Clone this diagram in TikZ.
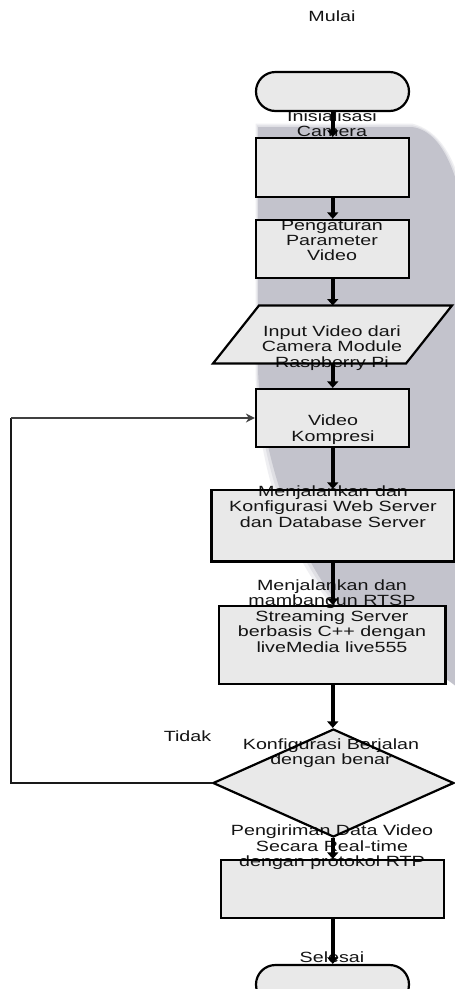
\documentclass[tikz,border=0pt]{standalone}
\usepackage{fontspec}
\setmainfont[FakeStretch=1.33]{Liberation Sans}
\usetikzlibrary{arrows.meta,shapes.geometric,shapes.misc}
\definecolor{boxfill}{HTML}{E9E9E9}
\definecolor{wm}{HTML}{C3C3CC}
\definecolor{txt}{HTML}{141414}
\tikzset{
  x=1pt,y=-1pt,
  boxnode/.style={rectangle,inner sep=0pt,line width=2.2pt,minimum width=#1},
  termnode/.style={rounded rectangle,inner sep=0pt,line width=2.2pt,minimum width=153pt,minimum height=39pt},
  decnode/.style={diamond,inner sep=0pt,line width=2.2pt,minimum width=241pt,minimum height=108pt},
  flow/.style={line width=4pt,-{Triangle[length=6.5pt,width=11pt]},black},
  loopline/.style={line width=2.3pt,draw=black!90},
  looparrow/.style={line width=2pt,draw=black!75,-{Stealth[length=9pt,width=9pt]}},
  lab/.style={font=\fontsize{14.8}{15.4}\selectfont,text=txt,align=center,inner sep=0pt},
}
\newcommand{\flowshapes}[1]{%
  \node[termnode,#1] (start) at (332.5,91.5) {};
  \node[boxnode=153pt,minimum height=59pt,#1] (init) at (332.5,167.5) {};
  \node[boxnode=153pt,minimum height=58pt,#1] (param) at (332.5,249) {};
  \path[#1,line width=2.2pt,line join=miter] (259,305.5) -- (452,305.5) -- (406,363.5) -- (213,363.5) -- cycle;
  \node[boxnode=153pt,minimum height=58pt,#1] (komp) at (332.5,418) {};
  \node[boxnode=242.5pt,minimum height=71.5pt,#1] (web) at (332.75,525.75) {};
  \node[boxnode=226.5pt,minimum height=78pt,#1] (rtsp) at (332.25,645) {};
  \node[decnode,#1] (dec) at (333.4,783) {};
  \node[boxnode=223pt,minimum height=58pt,#1] (kirim) at (332.5,889) {};
  \node[termnode,#1] (stop) at (332.5,984.5) {};
}
\newcommand{\flowto}[2]{\draw[flow] (stem |- #1.south) -- (stem |- #2.north);}
\begin{document}
\begin{tikzpicture}
\useasboundingbox (0,0) rectangle (455,989);
\clip (0,0) rectangle (455,989);
\fill[white] (0,0) rectangle (455,989);
% watermark
\foreach \o/\d in {0.25/7,0.35/3.5,1/0}{
\fill[wm,opacity=\o] (258-\d/3,127-\d/2) -- (412,127-\d/2) .. controls (435+\d/2,130) and (448+\d/2,155) .. (456+\d/2,180) -- (460,690)
  .. controls (452,682) and (447,680) .. (440,675) -- (346,612+\d) .. controls (305-\d,570+\d) and (262-\d,470+\d) .. (258-\d/3,370) -- cycle;
}
\flowshapes{fill=boxfill,draw=none}
\coordinate (stem) at (332.75,0);
\coordinate (inT) at (332.75,305.5);
\coordinate (inB) at (332.75,363.5);
\coordinate (loopA) at (11,783);
\coordinate (loopB) at (11,418);
% texts
\node[lab] (tMulai) at (332,16) {Mulai};
\node[lab] (tInit) at (332,124) {Inisialisasi\\Camera};
\node[lab] (tParam) at (332,240.5) {Pengaturan\\Parameter\\Video};
\node[lab] (tInput) at (332,348) {Input Video dari\\Camera Module\\Raspberry Pi};
\node[lab] (tKomp) at (333,429.5) {Video\\Kompresi};
\node[lab] (tWeb) at (333,506.5) {Menjalankan dan\\Konfigurasi Web Server\\dan Database Server};
\node[lab] (tRtsp) at (332,616) {Menjalankan dan\\mambangun RTSP\\Streaming Server\\berbasis C++ dengan\\liveMedia live555};
\node[lab] (tTidak) at (187.5,736) {Tidak};
\node[lab] (tDec) at (331,753) {Konfigurasi Berjalan\\dengan benar};
\node[lab] (tKirim) at (332,847.5) {Pengiriman Data Video\\Secara Real-time\\dengan protokol RTP};
\node[lab] (tStop) at (332,957) {Selesai};
% outlines above text
\flowshapes{draw=black,fill=none}
% connectors
\flowto{start}{init}
\flowto{init}{param}
\draw[flow] (stem |- param.south) -- (inT);
\draw[flow] (inB) -- (stem |- komp.north);
\flowto{komp}{web}
\flowto{web}{rtsp}
\flowto{rtsp}{dec}
\flowto{dec}{kirim}
\flowto{kirim}{stop}
\draw[loopline,line join=miter] (dec.west) -- (loopA) -- (loopB);
\draw[looparrow] (loopB) -- (komp.west);
\end{tikzpicture}
\end{document}
